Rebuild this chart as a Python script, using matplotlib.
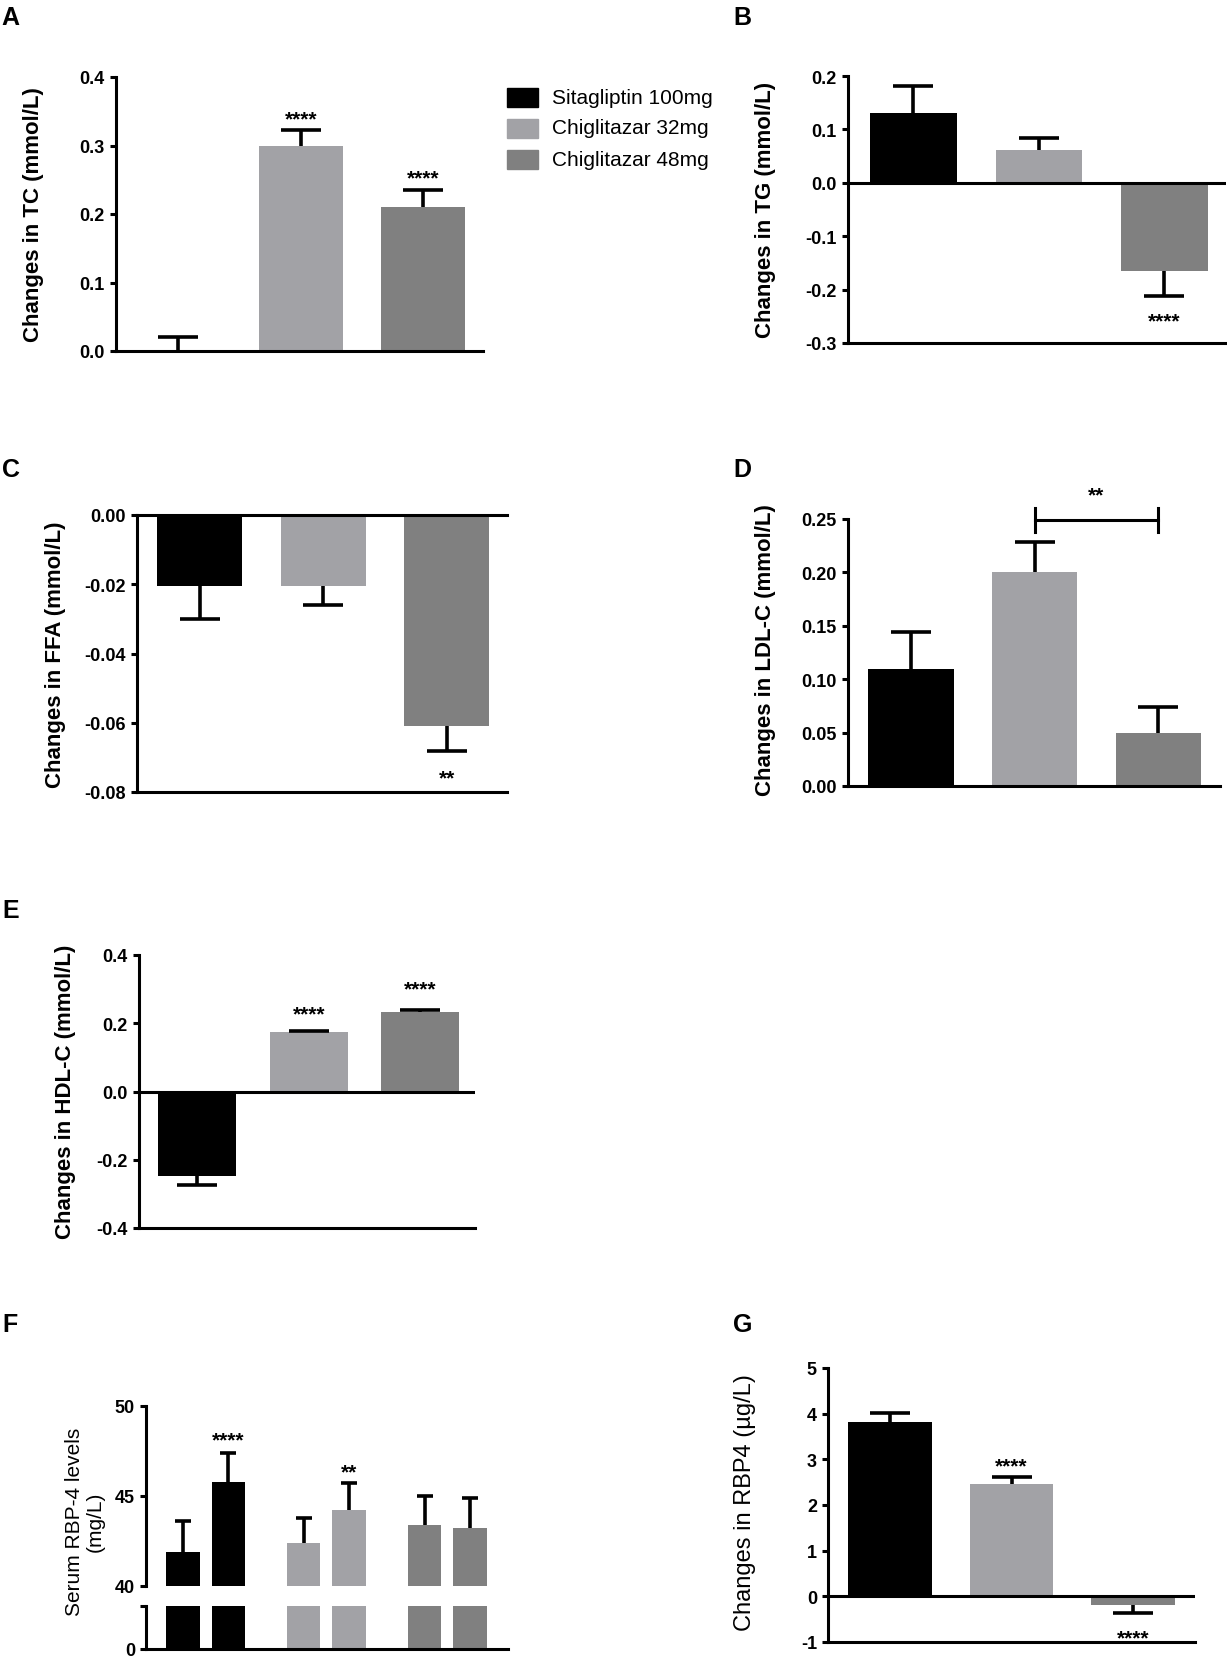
import numpy as np
import matplotlib
matplotlib.use('Agg')
import matplotlib.pyplot as plt
from matplotlib import font_manager

# figure size in pixels (dpi 100)
W, H = 1227, 1658

names = {f.name for f in font_manager.fontManager.ttflist}
NARROW = 'Liberation Sans Narrow' if 'Liberation Sans Narrow' in names else 'Liberation Sans'
SANS = 'Liberation Sans'

plt.rcParams['font.family'] = [NARROW, 'DejaVu Sans']
plt.rcParams['font.weight'] = 'bold'
plt.rcParams['axes.unicode_minus'] = False

# groups and colours
groups = ['Sitagliptin 100mg', 'Chiglitazar 32mg', 'Chiglitazar 48mg']
colors = ['#000000', '#a2a2a6', '#808080']

# A: total cholesterol
tc_mean = [0.0, 0.30, 0.21]
tc_sem = [0.02, 0.022, 0.025]
tc_stars = ['', '****', '****']
tc_star_y = [0, 0.349, 0.263]

# B: triglycerides
tg_mean = [0.131, 0.061, -0.165]
tg_sem = [0.05, 0.023, 0.047]
tg_stars = ['', '', '****']
tg_star_y = [0, 0, -0.246]

# C: free fatty acids
ffa_mean = [-0.0205, -0.0205, -0.061]
ffa_sem = [0.0095, 0.0055, 0.0072]
ffa_stars = ['', '', '**']
ffa_star_y = [0, 0, -0.0739]

# D: LDL-C
ldl_mean = [0.11, 0.20, 0.05]
ldl_sem = [0.034, 0.028, 0.024]

# E: HDL-C
hdl_mean = [-0.247, 0.173, 0.234]
hdl_sem = [0.028, 0.005, 0.005]
hdl_stars = ['', '****', '****']
hdl_star_y = [0, 0.248, 0.321]

# F: serum RBP-4 before / after in each group
rbp_mean = [41.9, 45.8, 42.4, 44.25, 43.4, 43.25]
rbp_sem = [1.7, 1.6, 1.4, 1.5, 1.6, 1.65]
rbp_stars = ['', '****', '', '**', '', '']
rbp_star_y = [0, 48.5, 0, 46.7, 0, 0]

# G: changes in RBP4
drbp_mean = [3.81, 2.47, -0.18]
drbp_sem = [0.21, 0.15, 0.18]
drbp_stars = ['', '****', '****']
drbp_star_y = [0, 3.0, -0.76]

SPINE = 2.2
TICKFS = 13
STARFS = 15

fig = plt.figure(figsize=(W / 100, H / 100), dpi=100)


def px_axes(left, top, right, bottom):
    return fig.add_axes([left / W, 1 - bottom / H, (right - left) / W, (bottom - top) / H])


def fig_text(x, y, s, **kw):
    fig.text(x / W, 1 - y / H, s, **kw)


def style_axes(ax, ylim, yticks, fmt, top=False, bottom=True):
    ax.set_ylim(*ylim)
    ax.set_yticks(yticks)
    ax.set_yticklabels([fmt % t for t in yticks])
    ax.set_xticks([])
    for side in ['left', 'right', 'top', 'bottom']:
        ax.spines[side].set_linewidth(SPINE)
    ax.spines['right'].set_visible(False)
    ax.spines['top'].set_visible(top)
    ax.spines['bottom'].set_visible(bottom)
    ax.tick_params(axis='y', direction='out', length=4.5, width=SPINE, pad=3.5,
                   labelsize=TICKFS)
    ax.patch.set_alpha(0)


def add_stars(ax, xs, ys, labels):
    for x, y, s in zip(xs, ys, labels):
        if s:
            ax.annotate(s, (x, y), xytext=(0, -0.58 * STARFS), textcoords='offset points',
                        ha='center', va='baseline', fontsize=STARFS, fontweight='bold',
                        family=SANS, annotation_clip=False)


def bar_panel(ax, means, sems, ylim, yticks, fmt, zero_line=False, top=False,
              width=0.69, xs=None, bar_colors=colors, cap=29):
    x = np.arange(len(means)) if xs is None else np.asarray(xs)
    means = np.asarray(means)
    sems = np.asarray(sems)
    ax.bar(x, means, width=width, color=bar_colors, zorder=2)
    # one-sided SEM bars, pointing away from zero, with a single cap
    tips = np.where(means < 0, means - sems, means + sems)
    ax.vlines(x, means, tips, color='black', lw=2.6, zorder=3)
    ax.plot(x, tips, ls='none', marker='_', ms=cap, mew=2.6, color='black', zorder=3)
    if zero_line:
        ax.axhline(0, color='black', lw=SPINE, zorder=4)
    style_axes(ax, ylim, yticks, fmt, top=top)
    return x


def ylabel(x, y, s, size=16, weight='bold'):
    fig_text(x, y, s, rotation=90, ha='center', va='center', fontsize=size,
             fontweight=weight, family=SANS, multialignment='center', linespacing=1.15)


def panel_letter(x, y, s):
    fig_text(x, y, s, ha='left', va='baseline', fontsize=18, fontweight='bold', family=SANS)


# ---- A ----
axA = px_axes(116, 78, 483, 352)
xA = bar_panel(axA, tc_mean, tc_sem, (0, 0.4), [0, 0.1, 0.2, 0.3, 0.4], '%.1f')
axA.set_xlim(-0.51, 2.49)
add_stars(axA, xA, tc_star_y, tc_stars)
ylabel(34, 215, 'Changes in TC (mmol/L)')
panel_letter(1, 25, 'A')

# legend
for i, (g, c) in enumerate(zip(groups, colors)):
    yc = 98 + i * 31
    fig.add_artist(plt.Rectangle((507 / W, 1 - (yc + 9.5) / H), 31 / W, 19 / H,
                                 transform=fig.transFigure, color=c))
    fig_text(552, yc, g, ha='left', va='center', fontsize=15, fontweight='normal',
             family=[NARROW, 'DejaVu Sans'])

# ---- B ----
axB = px_axes(848, 77, 1226, 344)
xB = bar_panel(axB, tg_mean, tg_sem, (-0.3, 0.2), [-0.3, -0.2, -0.1, 0.0, 0.1, 0.2], '%.1f',
               zero_line=True)
axB.set_xlim(-0.52, 2.49)
add_stars(axB, xB, tg_star_y, tg_stars)
ylabel(766, 210, 'Changes in TG (mmol/L)')
panel_letter(733, 25, 'B')

# ---- C ----
axC = px_axes(137, 516, 507, 793)
xC = bar_panel(axC, ffa_mean, ffa_sem, (-0.08, 0), [-0.08, -0.06, -0.04, -0.02, 0.0], '%.2f',
               top=True)
axC.set_xlim(-0.51, 2.49)
add_stars(axC, xC, ffa_star_y, ffa_stars)
ylabel(55, 655, 'Changes in FFA (mmol/L)')
panel_letter(2, 477, 'C')

# ---- D ----
axD = px_axes(848, 520, 1220, 787)
xD = bar_panel(axD, ldl_mean, ldl_sem, (0, 0.25), [0, 0.05, 0.10, 0.15, 0.20, 0.25], '%.2f')
axD.set_xlim(-0.51, 2.5)
# significance bracket between 32mg and 48mg
axD.plot([1, 2], [0.249, 0.249], color='black', lw=SPINE, clip_on=False)
for xe in (1, 2):
    axD.plot([xe, xe], [0.238, 0.26], color='black', lw=SPINE, clip_on=False)
add_stars(axD, [1.5], [0.279], ['**'])
ylabel(765, 650, 'Changes in LDL-C (mmol/L)')
panel_letter(733, 477, 'D')

# ---- E ----
axE = px_axes(139, 956, 475, 1229)
xE = bar_panel(axE, hdl_mean, hdl_sem, (-0.4, 0.4), [-0.4, -0.2, 0.0, 0.2, 0.4], '%.1f',
               zero_line=True, width=0.7)
axE.set_xlim(-0.52, 2.49)
add_stars(axE, xE, hdl_star_y, hdl_stars)
ylabel(66, 1092, 'Changes in HDL-C (mmol/L)')
panel_letter(2, 918, 'E')

# ---- F (broken axis) ----
xF = [0, 0.375, 1, 1.375, 2, 2.375]
colF = [colors[0], colors[0], colors[1], colors[1], colors[2], colors[2]]
axF = px_axes(146, 1407, 508, 1587)
bar_panel(axF, rbp_mean, rbp_sem, (40, 50), [40, 45, 50], '%d', xs=xF,
          width=0.275, bar_colors=colF, cap=12)
axF.spines['bottom'].set_visible(False)
axF.set_xlim(-0.306, 2.69)
add_stars(axF, xF, rbp_star_y, rbp_stars)
axF2 = px_axes(146, 1607, 508, 1650)
axF2.bar(xF, rbp_mean, width=0.275, color=colF, zorder=2)
style_axes(axF2, (0, 1), [0, 1], '%d')
axF2.set_yticklabels(['0', ''])
axF2.set_xlim(-0.306, 2.69)
ylabel(85, 1522, 'Serum RBP-4 levels\n(mg/L)', size=15, weight='normal')
panel_letter(2, 1332, 'F')

# ---- G ----
axG = px_axes(828, 1369, 1195, 1643)
xG = bar_panel(axG, drbp_mean, drbp_sem, (-1, 5), [-1, 0, 1, 2, 3, 4, 5], '%d',
               zero_line=True)
axG.set_xlim(-0.51, 2.51)
add_stars(axG, xG, drbp_star_y, drbp_stars)
ylabel(745, 1503, 'Changes in RBP4 (\u00b5g/L)', size=17, weight='normal')
panel_letter(733, 1332, 'G')

fig.savefig('out.png', dpi=100, facecolor='white')
